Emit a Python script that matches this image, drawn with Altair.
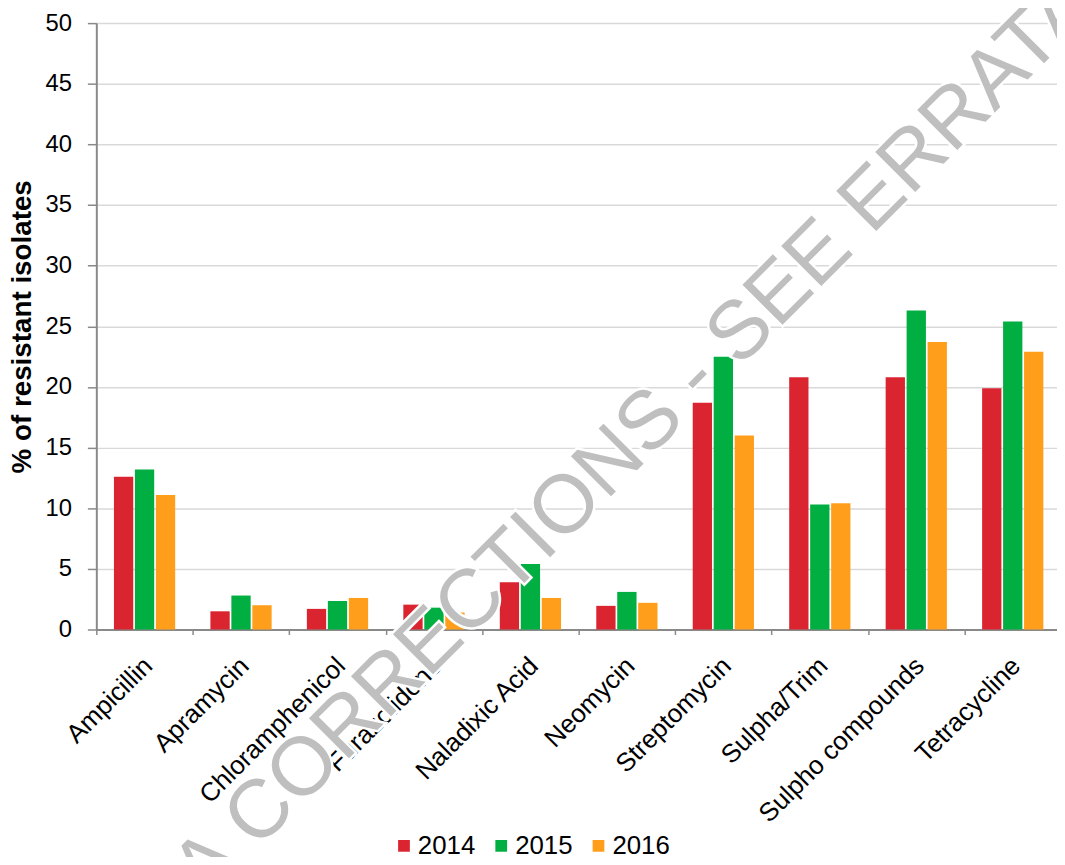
import altair as alt
import pandas as pd

drugs = ["Ampicillin", "Apramycin", "Chloramphenicol", "Furazolidone", "Naladixic Acid",
         "Neomycin", "Streptomycin", "Sulpha/Trim", "Sulpho compounds", "Tetracycline"]
years = ["2014", "2015", "2016"]
v2014 = [12.6, 1.5, 1.7, 2.05, 3.9, 1.95, 18.7, 20.8, 20.8, 19.9]
v2015 = [13.2, 2.8, 2.35, 1.8, 5.4, 3.1, 22.5, 10.3, 26.3, 25.4]
v2016 = [11.1, 2.0, 2.6, 1.4, 2.6, 2.2, 16.0, 10.4, 23.7, 22.9]
colors = ["#DA2530", "#00AE42", "#FF9E1B"]
y_ticks = [0, 5, 10, 15, 20, 25, 30, 35, 40, 45, 50]
watermark = ["DATA CORRECTIONS - SEE ERRATA"]

rows = []
for yr, vals in zip(years, [v2014, v2015, v2016]):
    for d, v in zip(drugs, vals):
        rows.append({"drug": d, "year": yr, "value": v})
df = pd.DataFrame(rows)

FONT = "Liberation Sans"
AXIS_COLOR = "#898989"

bars = alt.Chart(df).mark_bar().encode(
    x=alt.X("drug:N", sort=drugs,
            scale=alt.Scale(paddingInner=0, paddingOuter=0),
            axis=alt.Axis(title=None, labelAngle=315, labelAlign="right", labelBaseline="top",
                          labelFontSize=26, labelFont=FONT, labelColor="#000000",
                          tickBand="extent", tickSize=5, tickColor=AXIS_COLOR, tickWidth=1.5,
                          domainColor=AXIS_COLOR, domainWidth=2, labelPadding=18,
                          labelOffset=-6, grid=False, labelLimit=400)),
    xOffset=alt.XOffset("year:N", sort=years,
                        scale=alt.Scale(paddingInner=0.08, paddingOuter=0.84)),
    y=alt.Y("value:Q",
            scale=alt.Scale(domain=[0, 50], nice=False),
            axis=alt.Axis(values=y_ticks, title="% of resistant isolates",
                          titleFontSize=28, titleFontWeight="bold", titleFont=FONT,
                          titleColor="#000000", titlePadding=9,
                          labelFontSize=24, labelFont=FONT, labelColor="#000000",
                          tickSize=9, tickColor=AXIS_COLOR, tickWidth=1.5,
                          domainColor=AXIS_COLOR, domainWidth=2, labelPadding=16,
                          grid=True, gridColor="#D9D9D9", gridWidth=1.5)),
    color=alt.Color("year:N", sort=years,
                    scale=alt.Scale(domain=years, range=colors),
                    legend=alt.Legend(title=None, orient="none", legendX=297, legendY=816,
                                      direction="horizontal", symbolType="square",
                                      symbolSize=140, symbolStrokeWidth=0,
                                      labelFontSize=26, labelFont=FONT, labelColor="#000000",
                                      labelOffset=1, columnPadding=13)),
)

wm_halo = alt.Chart(pd.DataFrame({"t": watermark})).mark_text(
    angle=315, fontSize=83, font=FONT, color="#FFFFFF", stroke="#FFFFFF", strokeWidth=5,
    align="center", baseline="middle"
).encode(
    text="t:N",
    x=alt.value(488),
    y=alt.value(472),
)

wm = alt.Chart(pd.DataFrame({"t": watermark})).mark_text(
    angle=315, fontSize=83, font=FONT, color="#BFBFBF", align="center", baseline="middle"
).encode(
    text="t:N",
    x=alt.value(488),
    y=alt.value(472),
)

chart = alt.layer(bars, wm_halo, wm).properties(
    width=972, height=611,
    autosize=alt.AutoSizeParams(type="none"),
    padding={"left": 89, "top": 12, "right": -4, "bottom": 226},
).configure_view(stroke=None)

chart.save("out.html", embed_options={"renderer": "svg", "actions": False})
